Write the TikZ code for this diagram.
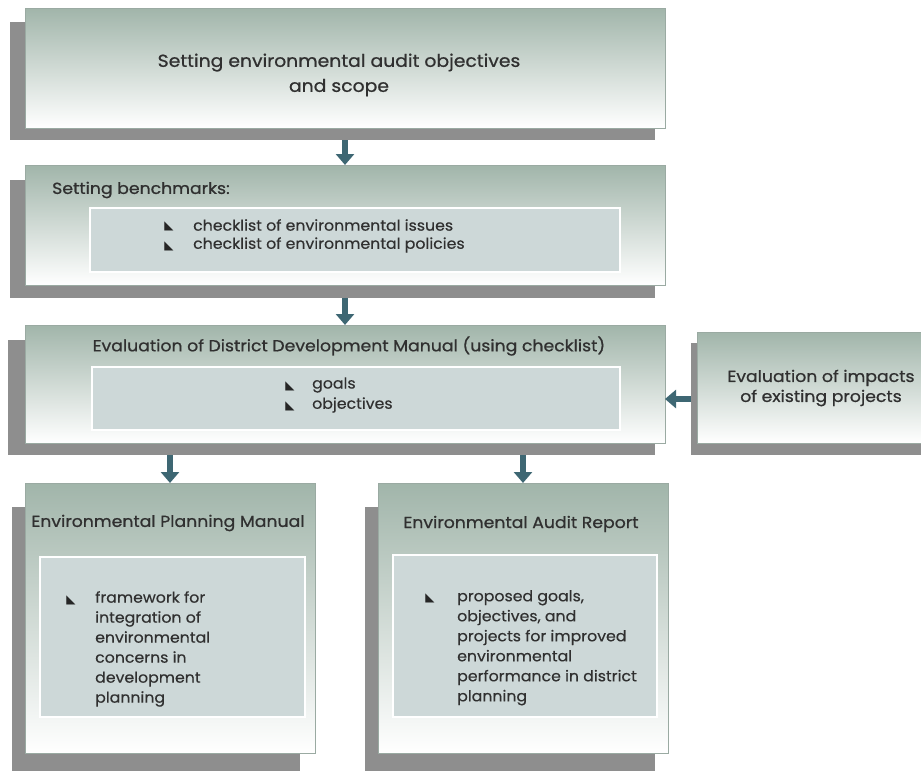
\documentclass[tikz,border=0pt]{standalone}
\usepackage{fontspec}
\setmainfont{Poppins}[FakeStretch=1.05, FakeBold=0.4]
\newfontfamily\titlefont{Poppins}[FakeStretch=1.08, FakeBold=0.8]
\newfontfamily\symfont{DejaVu Sans}
\usetikzlibrary{arrows.meta}
\definecolor{boxtop}{HTML}{A1B5AA}
\definecolor{boxedge}{HTML}{9AAAA2}
\definecolor{shadowc}{HTML}{8E8E8E}
\definecolor{innerc}{HTML}{CDD8D8}
\definecolor{arrc}{HTML}{3E6773}
\definecolor{txtc}{HTML}{303030}
\newcommand\bul{{\symfont\fontsize{12}{12}\selectfont ◣}}
\begin{document}
\begin{tikzpicture}[x=1pt,y=-1pt,
  shadowbox/.style={fill=shadowc, draw=none, anchor=north west, inner sep=0, outer sep=0},
  mainbox/.style={top color=boxtop, bottom color=white, draw=boxedge, line width=0.6pt, anchor=north west, inner sep=0, outer sep=0},
  innerbox/.style={fill=innerc, draw=white, line width=1.5pt, anchor=north west, inner sep=0, outer sep=0},
  lbl/.style={text=txtc, font=\fontsize{15}{20}\selectfont, inner sep=0},
  ttl/.style={text=txtc, font=\titlefont\fontsize{16}{20}\selectfont, inner sep=0},
  bigttl/.style={text=txtc, font=\titlefont\fontsize{17.4}{25}\selectfont, inner sep=0},
  bulnode/.style={text=black!85, inner sep=0, anchor=center},
  arr/.style={draw=arrc, line width=6pt, -{Triangle[length=11pt,width=18pt]}}
]
\useasboundingbox (0,0) rectangle (921,771);
\fill[white] (0,0) rectangle (921,771);
% --- box A
\node[shadowbox, minimum width=645pt, minimum height=118pt] (Ash) at (10,22) {};
\node[mainbox, minimum width=640pt, minimum height=120pt] (A) at (25,8) {};
\node[bigttl, align=center] (Atxt) at (339,75) {Setting environmental audit objectives\\and scope};
% --- box B
\node[shadowbox, minimum width=645pt, minimum height=118pt] (Bsh) at (10,180) {};
\node[mainbox, minimum width=640pt, minimum height=120pt] (B) at (25,165) {};
\node[innerbox, minimum width=530pt, minimum height=64pt] (Bin) at (90,208) {};
\node[ttl, anchor=west] (Btitle) at (52,190) {Setting benchmarks:};
\node[bulnode] (Bb1) at (169,226) {\bul};
\node[bulnode] (Bb2) at (169,246) {\bul};
\node[lbl, anchor=west] (Bt1) at (193,225) {checklist of environmental issues};
\node[lbl, anchor=west] (Bt2) at (193,245) {checklist of environmental policies};
% --- box C
\node[shadowbox, minimum width=647pt, minimum height=115pt] (Csh) at (8,340) {};
\node[mainbox, minimum width=640pt, minimum height=118pt] (C) at (25,325) {};
\node[innerbox, minimum width=528pt, minimum height=63pt] (Cin) at (92,367) {};
\node[ttl] (Ctitle) at (349,346) {Evaluation of District Development Manual (using checklist)};
\node[bulnode] (Cb1) at (290,386) {\bul};
\node[bulnode] (Cb2) at (290,406) {\bul};
\node[lbl, anchor=west] (Ct1) at (312,385) {goals};
\node[lbl, anchor=west] (Ct2) at (312,405) {objectives};
% --- box D
\node[shadowbox, minimum width=250pt, minimum height=112pt] (Dsh) at (691,343) {};
\node[mainbox, minimum width=250pt, minimum height=111pt] (D) at (697,332) {};
\node[ttl, align=center] (Dtxt) at (821,388) {Evaluation of impacts\\of existing projects};
% --- box E
\node[shadowbox, minimum width=288pt, minimum height=270pt] (Esh) at (12,507) {};
\node[mainbox, minimum width=290pt, minimum height=270pt] (E) at (25,483) {};
\node[innerbox, minimum width=265pt, minimum height=160pt] (Ein) at (40,557) {};
\node[ttl] (Etitle) at (168,523) {Environmental Planning Manual};
\node[bulnode] (Eb1) at (71,600) {\bul};
\node[lbl, anchor=north west, align=left] (Et1) at (95,591) {framework for\\integration of\\environmental\\concerns in\\development\\planning};
% --- box F
\node[shadowbox, minimum width=290pt, minimum height=270pt] (Fsh) at (365,507) {};
\node[mainbox, minimum width=290pt, minimum height=270pt] (F) at (378,483) {};
\node[innerbox, minimum width=264pt, minimum height=162pt] (Fin) at (393,555) {};
\node[ttl] (Ftitle) at (521,524) {Environmental Audit Report};
\node[bulnode] (Fb1) at (430,598) {\bul};
\node[lbl, anchor=north west, align=left] (Ft1) at (457,590) {proposed goals,\\objectives, and\\projects for improved\\environmental\\performance in district\\planning};
% --- arrows
\draw[arr] (B.north |- Ash.south) -- (B.north);
\draw[arr] (C.north |- Bsh.south) -- (C.north);
\draw[arr] (E.north |- Csh.south) -- (E.north);
\draw[arr] (F.north |- Csh.south) -- (F.north);
\draw[arr] (Dsh.west) -- (Dsh.west -| C.east);
\end{tikzpicture}
\end{document}
